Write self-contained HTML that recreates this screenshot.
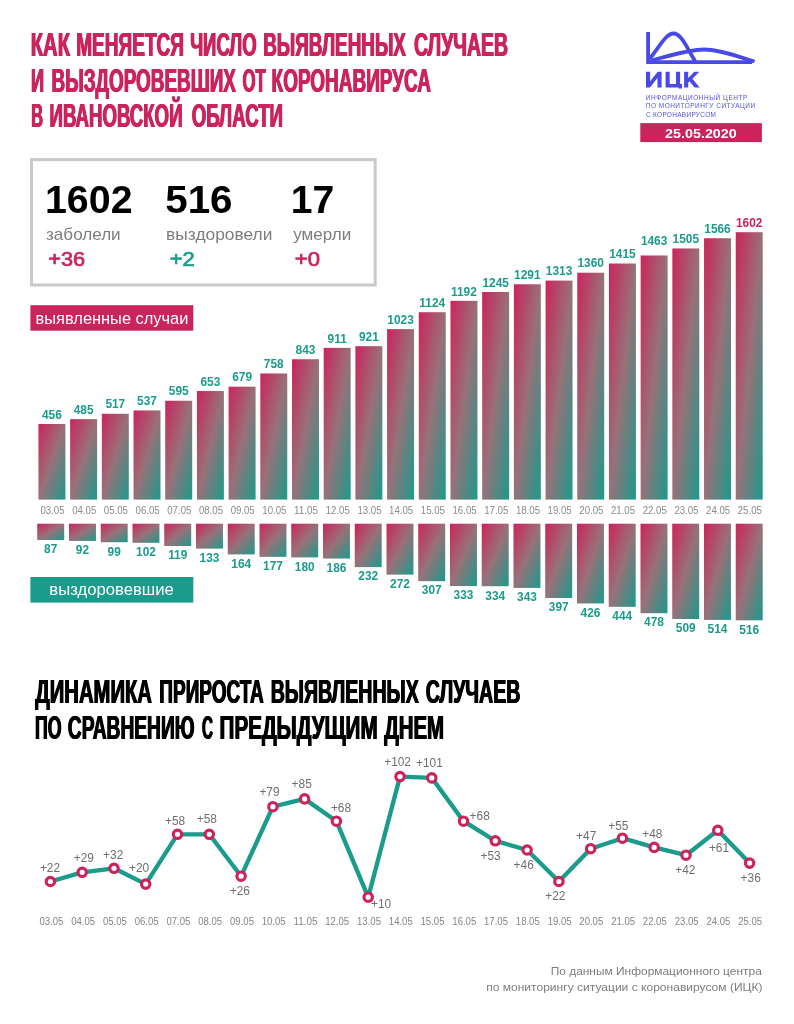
<!DOCTYPE html>
<html lang="ru"><head><meta charset="utf-8"><title>ИЦК 25.05.2020</title>
<style>html,body{margin:0;padding:0;background:#fff;}body{width:794px;height:1024px;overflow:hidden;font-family:"Liberation Sans", sans-serif;}svg{display:block;will-change:transform;}text{font-family:"Liberation Sans", sans-serif;}</style>
</head><body>
<svg width="794" height="1024" viewBox="0 0 794 1024">
<defs><linearGradient id="g" x1="0" y1="0" x2="1" y2="1"><stop offset="0" stop-color="#cb245c"/><stop offset="0.5" stop-color="#987179"/><stop offset="1" stop-color="#1a9b8b"/></linearGradient></defs>
<rect width="794" height="1024" fill="#fff"/>
<text x="30.29" y="56.20" font-size="33.40" font-weight="bold" fill="#cb245c" textLength="39.27" lengthAdjust="spacingAndGlyphs">КАК</text>
<text x="30.79" y="56.20" font-size="33.40" font-weight="bold" fill="#cb245c" textLength="39.27" lengthAdjust="spacingAndGlyphs">КАК</text>
<text x="31.29" y="56.20" font-size="33.40" font-weight="bold" fill="#cb245c" textLength="39.27" lengthAdjust="spacingAndGlyphs">КАК</text>
<text x="75.66" y="56.20" font-size="33.40" font-weight="bold" fill="#cb245c" textLength="107.82" lengthAdjust="spacingAndGlyphs">МЕНЯЕТСЯ</text>
<text x="76.16" y="56.20" font-size="33.40" font-weight="bold" fill="#cb245c" textLength="107.82" lengthAdjust="spacingAndGlyphs">МЕНЯЕТСЯ</text>
<text x="76.66" y="56.20" font-size="33.40" font-weight="bold" fill="#cb245c" textLength="107.82" lengthAdjust="spacingAndGlyphs">МЕНЯЕТСЯ</text>
<text x="189.63" y="56.20" font-size="33.40" font-weight="bold" fill="#cb245c" textLength="66.52" lengthAdjust="spacingAndGlyphs">ЧИСЛО</text>
<text x="190.13" y="56.20" font-size="33.40" font-weight="bold" fill="#cb245c" textLength="66.52" lengthAdjust="spacingAndGlyphs">ЧИСЛО</text>
<text x="190.63" y="56.20" font-size="33.40" font-weight="bold" fill="#cb245c" textLength="66.52" lengthAdjust="spacingAndGlyphs">ЧИСЛО</text>
<text x="262.68" y="56.20" font-size="33.40" font-weight="bold" fill="#cb245c" textLength="142.74" lengthAdjust="spacingAndGlyphs">ВЫЯВЛЕННЫХ</text>
<text x="263.18" y="56.20" font-size="33.40" font-weight="bold" fill="#cb245c" textLength="142.74" lengthAdjust="spacingAndGlyphs">ВЫЯВЛЕННЫХ</text>
<text x="263.68" y="56.20" font-size="33.40" font-weight="bold" fill="#cb245c" textLength="142.74" lengthAdjust="spacingAndGlyphs">ВЫЯВЛЕННЫХ</text>
<text x="413.52" y="56.20" font-size="33.40" font-weight="bold" fill="#cb245c" textLength="94.05" lengthAdjust="spacingAndGlyphs">СЛУЧАЕВ</text>
<text x="414.02" y="56.20" font-size="33.40" font-weight="bold" fill="#cb245c" textLength="94.05" lengthAdjust="spacingAndGlyphs">СЛУЧАЕВ</text>
<text x="414.52" y="56.20" font-size="33.40" font-weight="bold" fill="#cb245c" textLength="94.05" lengthAdjust="spacingAndGlyphs">СЛУЧАЕВ</text>
<text x="30.52" y="91.80" font-size="33.40" font-weight="bold" fill="#cb245c" textLength="13.09" lengthAdjust="spacingAndGlyphs">И</text>
<text x="31.02" y="91.80" font-size="33.40" font-weight="bold" fill="#cb245c" textLength="13.09" lengthAdjust="spacingAndGlyphs">И</text>
<text x="31.52" y="91.80" font-size="33.40" font-weight="bold" fill="#cb245c" textLength="13.09" lengthAdjust="spacingAndGlyphs">И</text>
<text x="50.97" y="91.80" font-size="33.40" font-weight="bold" fill="#cb245c" textLength="184.46" lengthAdjust="spacingAndGlyphs">ВЫЗДОРОВЕВШИХ</text>
<text x="51.47" y="91.80" font-size="33.40" font-weight="bold" fill="#cb245c" textLength="184.46" lengthAdjust="spacingAndGlyphs">ВЫЗДОРОВЕВШИХ</text>
<text x="51.97" y="91.80" font-size="33.40" font-weight="bold" fill="#cb245c" textLength="184.46" lengthAdjust="spacingAndGlyphs">ВЫЗДОРОВЕВШИХ</text>
<text x="241.93" y="91.80" font-size="33.40" font-weight="bold" fill="#cb245c" textLength="23.21" lengthAdjust="spacingAndGlyphs">ОТ</text>
<text x="242.43" y="91.80" font-size="33.40" font-weight="bold" fill="#cb245c" textLength="23.21" lengthAdjust="spacingAndGlyphs">ОТ</text>
<text x="242.93" y="91.80" font-size="33.40" font-weight="bold" fill="#cb245c" textLength="23.21" lengthAdjust="spacingAndGlyphs">ОТ</text>
<text x="271.07" y="91.80" font-size="33.40" font-weight="bold" fill="#cb245c" textLength="159.42" lengthAdjust="spacingAndGlyphs">КОРОНАВИРУСА</text>
<text x="271.57" y="91.80" font-size="33.40" font-weight="bold" fill="#cb245c" textLength="159.42" lengthAdjust="spacingAndGlyphs">КОРОНАВИРУСА</text>
<text x="272.07" y="91.80" font-size="33.40" font-weight="bold" fill="#cb245c" textLength="159.42" lengthAdjust="spacingAndGlyphs">КОРОНАВИРУСА</text>
<text x="30.74" y="127.40" font-size="33.40" font-weight="bold" fill="#cb245c" textLength="11.79" lengthAdjust="spacingAndGlyphs">В</text>
<text x="31.24" y="127.40" font-size="33.40" font-weight="bold" fill="#cb245c" textLength="11.79" lengthAdjust="spacingAndGlyphs">В</text>
<text x="31.74" y="127.40" font-size="33.40" font-weight="bold" fill="#cb245c" textLength="11.79" lengthAdjust="spacingAndGlyphs">В</text>
<text x="49.09" y="127.40" font-size="33.40" font-weight="bold" fill="#cb245c" textLength="132.96" lengthAdjust="spacingAndGlyphs">ИВАНОВСКОЙ</text>
<text x="49.59" y="127.40" font-size="33.40" font-weight="bold" fill="#cb245c" textLength="132.96" lengthAdjust="spacingAndGlyphs">ИВАНОВСКОЙ</text>
<text x="50.09" y="127.40" font-size="33.40" font-weight="bold" fill="#cb245c" textLength="132.96" lengthAdjust="spacingAndGlyphs">ИВАНОВСКОЙ</text>
<text x="191.15" y="127.40" font-size="33.40" font-weight="bold" fill="#cb245c" textLength="91.36" lengthAdjust="spacingAndGlyphs">ОБЛАСТИ</text>
<text x="191.65" y="127.40" font-size="33.40" font-weight="bold" fill="#cb245c" textLength="91.36" lengthAdjust="spacingAndGlyphs">ОБЛАСТИ</text>
<text x="192.15" y="127.40" font-size="33.40" font-weight="bold" fill="#cb245c" textLength="91.36" lengthAdjust="spacingAndGlyphs">ОБЛАСТИ</text>
<g fill="none" stroke="#4949e8" stroke-width="3.8" stroke-linejoin="miter">
<path d="M648.1 31.9 V62.1 H752"/>
<path d="M649.5 59 C 660 46, 666 33.5, 673.5 33.5 C 681 33.5, 686 46, 695 61"/>
<path d="M651 60.5 C 672 55, 690 49.5, 704 49.5 C 720 49.5, 738 56.5, 754.5 61.5"/>
</g>
<g fill="#4949e8">
<path d="M646 71.7h4.1v9.6l7.6-9.6h3.9v15.9h-4.1v-9.6l-7.6 9.6h-3.9z"/>
<path d="M665.6 71.7h4.1v12.2h6.3v-12.2h4.1v12.2h1.9v4.6h-3.4v-0.9h-13z"/>
<path d="M684.1 71.7h4.1v6.3l6.1-6.3h5l-6.9 7 7.3 8.9h-5.1l-5.1-6.3-1.3 1.3v5h-4.1z"/>
</g>
<text x="645.78" y="100.00" font-size="6.50" fill="#5252e4" textLength="101.55" lengthAdjust="spacing">ИНФОРМАЦИОННЫЙ ЦЕНТР</text>
<text x="645.78" y="108.35" font-size="6.50" fill="#5252e4" textLength="109.31" lengthAdjust="spacing">ПО МОНИТОРИНГУ СИТУАЦИИ</text>
<text x="645.97" y="116.70" font-size="6.50" fill="#5252e4" textLength="69.92" lengthAdjust="spacing">С КОРОНАВИРУСОМ</text>
<rect x="640.3" y="123.1" width="121.6" height="19" fill="#cb245c"/>
<text x="665.14" y="137.80" font-size="13.60" font-weight="bold" fill="#fff" textLength="71.60" lengthAdjust="spacingAndGlyphs">25.05.2020</text>
<rect x="31.55" y="159.65" width="343.65" height="125.35" fill="none" stroke="#c9c9c9" stroke-width="3"/>
<text x="44.94" y="213.00" font-size="38.00" font-weight="bold" fill="#000" textLength="87.62" lengthAdjust="spacingAndGlyphs">1602</text>
<text x="165.19" y="213.00" font-size="38.00" font-weight="bold" fill="#000" textLength="67.36" lengthAdjust="spacingAndGlyphs">516</text>
<text x="290.86" y="213.00" font-size="38.00" font-weight="bold" fill="#000" textLength="43.50" lengthAdjust="spacingAndGlyphs">17</text>
<text x="46.02" y="240.00" font-size="17.00" fill="#7d7d7d" textLength="74.64" lengthAdjust="spacingAndGlyphs">заболели</text>
<text x="166.13" y="240.00" font-size="17.00" fill="#7d7d7d" textLength="106.26" lengthAdjust="spacingAndGlyphs">выздоровели</text>
<text x="293.26" y="240.00" font-size="17.00" fill="#7d7d7d" textLength="57.92" lengthAdjust="spacingAndGlyphs">умерли</text>
<text x="48.27" y="265.70" font-size="19.60" fill="#cb245c" textLength="36.89" lengthAdjust="spacingAndGlyphs" stroke="#cb245c" stroke-width="0.7">+36</text>
<text x="169.76" y="265.70" font-size="19.60" fill="#1a9b8b" textLength="24.99" lengthAdjust="spacingAndGlyphs" stroke="#1a9b8b" stroke-width="0.7">+2</text>
<text x="294.75" y="265.70" font-size="19.60" fill="#cb245c" textLength="25.18" lengthAdjust="spacingAndGlyphs" stroke="#cb245c" stroke-width="0.7">+0</text>
<rect x="30.4" y="305.2" width="162.9" height="25.5" fill="#cb245c"/>
<text x="35.59" y="323.70" font-size="16.00" fill="#fff" textLength="152.83" lengthAdjust="spacingAndGlyphs">выявленные случаи</text>
<rect x="30.4" y="577" width="162.9" height="25.6" fill="#1a9b8b"/>
<text x="49.27" y="595.30" font-size="16.00" fill="#fff" textLength="124.55" lengthAdjust="spacingAndGlyphs">выздоровевшие</text>
<rect x="38.45" y="424.00" width="26.95" height="75.60" fill="url(#g)"/>
<text x="51.93" y="418.70" font-size="11.9" font-weight="bold" fill="#1a9b8b" text-anchor="middle">456</text>
<text x="52.53" y="513.8" font-size="10" fill="#8a8a8a" text-anchor="middle" textLength="24.1" lengthAdjust="spacingAndGlyphs">03.05</text>
<rect x="37.25" y="523.70" width="26.95" height="16.29" fill="url(#g)"/>
<text x="50.73" y="553.29" font-size="11.9" font-weight="bold" fill="#1a9b8b" text-anchor="middle">87</text>
<rect x="70.15" y="419.15" width="26.95" height="80.45" fill="url(#g)"/>
<text x="83.62" y="413.85" font-size="11.9" font-weight="bold" fill="#1a9b8b" text-anchor="middle">485</text>
<text x="84.22" y="513.8" font-size="10" fill="#8a8a8a" text-anchor="middle" textLength="24.1" lengthAdjust="spacingAndGlyphs">04.05</text>
<rect x="69.00" y="523.70" width="26.95" height="17.22" fill="url(#g)"/>
<text x="82.47" y="554.22" font-size="11.9" font-weight="bold" fill="#1a9b8b" text-anchor="middle">92</text>
<rect x="101.84" y="413.79" width="26.95" height="85.81" fill="url(#g)"/>
<text x="115.31" y="408.49" font-size="11.9" font-weight="bold" fill="#1a9b8b" text-anchor="middle">517</text>
<text x="115.91" y="513.8" font-size="10" fill="#8a8a8a" text-anchor="middle" textLength="24.1" lengthAdjust="spacingAndGlyphs">05.05</text>
<rect x="100.75" y="523.70" width="26.95" height="18.53" fill="url(#g)"/>
<text x="114.22" y="555.53" font-size="11.9" font-weight="bold" fill="#1a9b8b" text-anchor="middle">99</text>
<rect x="133.54" y="410.45" width="26.95" height="89.15" fill="url(#g)"/>
<text x="147.01" y="405.15" font-size="11.9" font-weight="bold" fill="#1a9b8b" text-anchor="middle">537</text>
<text x="147.61" y="513.8" font-size="10" fill="#8a8a8a" text-anchor="middle" textLength="24.1" lengthAdjust="spacingAndGlyphs">06.05</text>
<rect x="132.50" y="523.70" width="26.95" height="19.10" fill="url(#g)"/>
<text x="145.97" y="556.10" font-size="11.9" font-weight="bold" fill="#1a9b8b" text-anchor="middle">102</text>
<rect x="165.23" y="400.74" width="26.95" height="98.86" fill="url(#g)"/>
<text x="178.71" y="395.44" font-size="11.9" font-weight="bold" fill="#1a9b8b" text-anchor="middle">595</text>
<text x="179.31" y="513.8" font-size="10" fill="#8a8a8a" text-anchor="middle" textLength="24.1" lengthAdjust="spacingAndGlyphs">07.05</text>
<rect x="164.25" y="523.70" width="26.95" height="22.28" fill="url(#g)"/>
<text x="177.72" y="559.28" font-size="11.9" font-weight="bold" fill="#1a9b8b" text-anchor="middle">119</text>
<rect x="196.93" y="391.03" width="26.95" height="108.57" fill="url(#g)"/>
<text x="210.40" y="385.73" font-size="11.9" font-weight="bold" fill="#1a9b8b" text-anchor="middle">653</text>
<text x="211.00" y="513.8" font-size="10" fill="#8a8a8a" text-anchor="middle" textLength="24.1" lengthAdjust="spacingAndGlyphs">08.05</text>
<rect x="196.00" y="523.70" width="26.95" height="24.90" fill="url(#g)"/>
<text x="209.47" y="561.90" font-size="11.9" font-weight="bold" fill="#1a9b8b" text-anchor="middle">133</text>
<rect x="228.62" y="386.68" width="26.95" height="112.92" fill="url(#g)"/>
<text x="242.09" y="381.38" font-size="11.9" font-weight="bold" fill="#1a9b8b" text-anchor="middle">679</text>
<text x="242.69" y="513.8" font-size="10" fill="#8a8a8a" text-anchor="middle" textLength="24.1" lengthAdjust="spacingAndGlyphs">09.05</text>
<rect x="227.75" y="523.70" width="26.95" height="30.70" fill="url(#g)"/>
<text x="241.22" y="567.70" font-size="11.9" font-weight="bold" fill="#1a9b8b" text-anchor="middle">164</text>
<rect x="260.31" y="373.46" width="26.95" height="126.14" fill="url(#g)"/>
<text x="273.79" y="368.16" font-size="11.9" font-weight="bold" fill="#1a9b8b" text-anchor="middle">758</text>
<text x="274.39" y="513.8" font-size="10" fill="#8a8a8a" text-anchor="middle" textLength="24.1" lengthAdjust="spacingAndGlyphs">10.05</text>
<rect x="259.50" y="523.70" width="26.95" height="33.14" fill="url(#g)"/>
<text x="272.97" y="570.14" font-size="11.9" font-weight="bold" fill="#1a9b8b" text-anchor="middle">177</text>
<rect x="292.01" y="359.24" width="26.95" height="140.36" fill="url(#g)"/>
<text x="305.49" y="353.94" font-size="11.9" font-weight="bold" fill="#1a9b8b" text-anchor="middle">843</text>
<text x="306.09" y="513.8" font-size="10" fill="#8a8a8a" text-anchor="middle" textLength="24.1" lengthAdjust="spacingAndGlyphs">11.05</text>
<rect x="291.25" y="523.70" width="26.95" height="33.70" fill="url(#g)"/>
<text x="304.72" y="570.70" font-size="11.9" font-weight="bold" fill="#1a9b8b" text-anchor="middle">180</text>
<rect x="323.70" y="347.86" width="26.95" height="151.74" fill="url(#g)"/>
<text x="337.18" y="342.56" font-size="11.9" font-weight="bold" fill="#1a9b8b" text-anchor="middle">911</text>
<text x="337.78" y="513.8" font-size="10" fill="#8a8a8a" text-anchor="middle" textLength="24.1" lengthAdjust="spacingAndGlyphs">12.05</text>
<rect x="323.00" y="523.70" width="26.95" height="34.82" fill="url(#g)"/>
<text x="336.47" y="571.82" font-size="11.9" font-weight="bold" fill="#1a9b8b" text-anchor="middle">186</text>
<rect x="355.40" y="346.18" width="26.95" height="153.42" fill="url(#g)"/>
<text x="368.88" y="340.88" font-size="11.9" font-weight="bold" fill="#1a9b8b" text-anchor="middle">921</text>
<text x="369.48" y="513.8" font-size="10" fill="#8a8a8a" text-anchor="middle" textLength="24.1" lengthAdjust="spacingAndGlyphs">13.05</text>
<rect x="354.75" y="523.70" width="26.95" height="43.43" fill="url(#g)"/>
<text x="368.22" y="580.43" font-size="11.9" font-weight="bold" fill="#1a9b8b" text-anchor="middle">232</text>
<rect x="387.09" y="329.11" width="26.95" height="170.49" fill="url(#g)"/>
<text x="400.57" y="323.81" font-size="11.9" font-weight="bold" fill="#1a9b8b" text-anchor="middle">1023</text>
<text x="401.17" y="513.8" font-size="10" fill="#8a8a8a" text-anchor="middle" textLength="24.1" lengthAdjust="spacingAndGlyphs">14.05</text>
<rect x="386.50" y="523.70" width="26.95" height="50.92" fill="url(#g)"/>
<text x="399.97" y="587.92" font-size="11.9" font-weight="bold" fill="#1a9b8b" text-anchor="middle">272</text>
<rect x="418.79" y="312.21" width="26.95" height="187.39" fill="url(#g)"/>
<text x="432.27" y="306.91" font-size="11.9" font-weight="bold" fill="#1a9b8b" text-anchor="middle">1124</text>
<text x="432.87" y="513.8" font-size="10" fill="#8a8a8a" text-anchor="middle" textLength="24.1" lengthAdjust="spacingAndGlyphs">15.05</text>
<rect x="418.24" y="523.70" width="26.95" height="57.47" fill="url(#g)"/>
<text x="431.72" y="594.47" font-size="11.9" font-weight="bold" fill="#1a9b8b" text-anchor="middle">307</text>
<rect x="450.49" y="300.83" width="26.95" height="198.77" fill="url(#g)"/>
<text x="463.96" y="295.53" font-size="11.9" font-weight="bold" fill="#1a9b8b" text-anchor="middle">1192</text>
<text x="464.56" y="513.8" font-size="10" fill="#8a8a8a" text-anchor="middle" textLength="24.1" lengthAdjust="spacingAndGlyphs">16.05</text>
<rect x="449.99" y="523.70" width="26.95" height="62.34" fill="url(#g)"/>
<text x="463.47" y="599.34" font-size="11.9" font-weight="bold" fill="#1a9b8b" text-anchor="middle">333</text>
<rect x="482.18" y="291.96" width="26.95" height="207.64" fill="url(#g)"/>
<text x="495.66" y="286.66" font-size="11.9" font-weight="bold" fill="#1a9b8b" text-anchor="middle">1245</text>
<text x="496.26" y="513.8" font-size="10" fill="#8a8a8a" text-anchor="middle" textLength="24.1" lengthAdjust="spacingAndGlyphs">17.05</text>
<rect x="481.74" y="523.70" width="26.95" height="62.53" fill="url(#g)"/>
<text x="495.22" y="599.53" font-size="11.9" font-weight="bold" fill="#1a9b8b" text-anchor="middle">334</text>
<rect x="513.88" y="284.26" width="26.95" height="215.34" fill="url(#g)"/>
<text x="527.35" y="278.96" font-size="11.9" font-weight="bold" fill="#1a9b8b" text-anchor="middle">1291</text>
<text x="527.95" y="513.8" font-size="10" fill="#8a8a8a" text-anchor="middle" textLength="24.1" lengthAdjust="spacingAndGlyphs">18.05</text>
<rect x="513.49" y="523.70" width="26.95" height="64.21" fill="url(#g)"/>
<text x="526.97" y="601.21" font-size="11.9" font-weight="bold" fill="#1a9b8b" text-anchor="middle">343</text>
<rect x="545.57" y="280.58" width="26.95" height="219.02" fill="url(#g)"/>
<text x="559.05" y="275.28" font-size="11.9" font-weight="bold" fill="#1a9b8b" text-anchor="middle">1313</text>
<text x="559.65" y="513.8" font-size="10" fill="#8a8a8a" text-anchor="middle" textLength="24.1" lengthAdjust="spacingAndGlyphs">19.05</text>
<rect x="545.24" y="523.70" width="26.95" height="74.32" fill="url(#g)"/>
<text x="558.72" y="611.32" font-size="11.9" font-weight="bold" fill="#1a9b8b" text-anchor="middle">397</text>
<rect x="577.27" y="272.71" width="26.95" height="226.89" fill="url(#g)"/>
<text x="590.74" y="267.41" font-size="11.9" font-weight="bold" fill="#1a9b8b" text-anchor="middle">1360</text>
<text x="591.34" y="513.8" font-size="10" fill="#8a8a8a" text-anchor="middle" textLength="24.1" lengthAdjust="spacingAndGlyphs">20.05</text>
<rect x="576.99" y="523.70" width="26.95" height="79.75" fill="url(#g)"/>
<text x="590.47" y="616.75" font-size="11.9" font-weight="bold" fill="#1a9b8b" text-anchor="middle">426</text>
<rect x="608.96" y="263.51" width="26.95" height="236.09" fill="url(#g)"/>
<text x="622.44" y="258.21" font-size="11.9" font-weight="bold" fill="#1a9b8b" text-anchor="middle">1415</text>
<text x="623.04" y="513.8" font-size="10" fill="#8a8a8a" text-anchor="middle" textLength="24.1" lengthAdjust="spacingAndGlyphs">21.05</text>
<rect x="608.74" y="523.70" width="26.95" height="83.12" fill="url(#g)"/>
<text x="622.22" y="620.12" font-size="11.9" font-weight="bold" fill="#1a9b8b" text-anchor="middle">444</text>
<rect x="640.66" y="255.47" width="26.95" height="244.13" fill="url(#g)"/>
<text x="654.13" y="244.97" font-size="11.9" font-weight="bold" fill="#1a9b8b" text-anchor="middle">1463</text>
<text x="654.73" y="513.8" font-size="10" fill="#8a8a8a" text-anchor="middle" textLength="24.1" lengthAdjust="spacingAndGlyphs">22.05</text>
<rect x="640.49" y="523.70" width="26.95" height="89.49" fill="url(#g)"/>
<text x="653.97" y="626.49" font-size="11.9" font-weight="bold" fill="#1a9b8b" text-anchor="middle">478</text>
<rect x="672.35" y="248.44" width="26.95" height="251.16" fill="url(#g)"/>
<text x="685.83" y="243.14" font-size="11.9" font-weight="bold" fill="#1a9b8b" text-anchor="middle">1505</text>
<text x="686.43" y="513.8" font-size="10" fill="#8a8a8a" text-anchor="middle" textLength="24.1" lengthAdjust="spacingAndGlyphs">23.05</text>
<rect x="672.24" y="523.70" width="26.95" height="95.29" fill="url(#g)"/>
<text x="685.72" y="632.29" font-size="11.9" font-weight="bold" fill="#1a9b8b" text-anchor="middle">509</text>
<rect x="704.05" y="238.23" width="26.95" height="261.37" fill="url(#g)"/>
<text x="717.52" y="232.93" font-size="11.9" font-weight="bold" fill="#1a9b8b" text-anchor="middle">1566</text>
<text x="718.12" y="513.8" font-size="10" fill="#8a8a8a" text-anchor="middle" textLength="24.1" lengthAdjust="spacingAndGlyphs">24.05</text>
<rect x="703.99" y="523.70" width="26.95" height="96.23" fill="url(#g)"/>
<text x="717.47" y="633.23" font-size="11.9" font-weight="bold" fill="#1a9b8b" text-anchor="middle">514</text>
<rect x="735.74" y="232.21" width="26.95" height="267.39" fill="url(#g)"/>
<text x="749.22" y="226.91" font-size="11.9" font-weight="bold" fill="#cb245c" text-anchor="middle">1602</text>
<text x="749.82" y="513.8" font-size="10" fill="#8a8a8a" text-anchor="middle" textLength="24.1" lengthAdjust="spacingAndGlyphs">25.05</text>
<rect x="735.74" y="523.70" width="26.95" height="96.60" fill="url(#g)"/>
<text x="749.22" y="633.60" font-size="11.9" font-weight="bold" fill="#1a9b8b" text-anchor="middle">516</text>
<text x="34.85" y="702.90" font-size="33.40" font-weight="bold" fill="#000" textLength="116.55" lengthAdjust="spacingAndGlyphs">ДИНАМИКА</text>
<text x="35.35" y="702.90" font-size="33.40" font-weight="bold" fill="#000" textLength="116.55" lengthAdjust="spacingAndGlyphs">ДИНАМИКА</text>
<text x="35.85" y="702.90" font-size="33.40" font-weight="bold" fill="#000" textLength="116.55" lengthAdjust="spacingAndGlyphs">ДИНАМИКА</text>
<text x="158.87" y="702.90" font-size="33.40" font-weight="bold" fill="#000" textLength="104.38" lengthAdjust="spacingAndGlyphs">ПРИРОСТА</text>
<text x="159.37" y="702.90" font-size="33.40" font-weight="bold" fill="#000" textLength="104.38" lengthAdjust="spacingAndGlyphs">ПРИРОСТА</text>
<text x="159.87" y="702.90" font-size="33.40" font-weight="bold" fill="#000" textLength="104.38" lengthAdjust="spacingAndGlyphs">ПРИРОСТА</text>
<text x="270.13" y="702.90" font-size="33.40" font-weight="bold" fill="#000" textLength="148.20" lengthAdjust="spacingAndGlyphs">ВЫЯВЛЕННЫХ</text>
<text x="270.63" y="702.90" font-size="33.40" font-weight="bold" fill="#000" textLength="148.20" lengthAdjust="spacingAndGlyphs">ВЫЯВЛЕННЫХ</text>
<text x="271.13" y="702.90" font-size="33.40" font-weight="bold" fill="#000" textLength="148.20" lengthAdjust="spacingAndGlyphs">ВЫЯВЛЕННЫХ</text>
<text x="425.22" y="702.90" font-size="33.40" font-weight="bold" fill="#000" textLength="94.77" lengthAdjust="spacingAndGlyphs">СЛУЧАЕВ</text>
<text x="425.72" y="702.90" font-size="33.40" font-weight="bold" fill="#000" textLength="94.77" lengthAdjust="spacingAndGlyphs">СЛУЧАЕВ</text>
<text x="426.22" y="702.90" font-size="33.40" font-weight="bold" fill="#000" textLength="94.77" lengthAdjust="spacingAndGlyphs">СЛУЧАЕВ</text>
<text x="34.45" y="739.30" font-size="33.40" font-weight="bold" fill="#000" textLength="26.55" lengthAdjust="spacingAndGlyphs">ПО</text>
<text x="34.95" y="739.30" font-size="33.40" font-weight="bold" fill="#000" textLength="26.55" lengthAdjust="spacingAndGlyphs">ПО</text>
<text x="35.45" y="739.30" font-size="33.40" font-weight="bold" fill="#000" textLength="26.55" lengthAdjust="spacingAndGlyphs">ПО</text>
<text x="67.33" y="739.30" font-size="33.40" font-weight="bold" fill="#000" textLength="126.67" lengthAdjust="spacingAndGlyphs">СРАВНЕНИЮ</text>
<text x="67.83" y="739.30" font-size="33.40" font-weight="bold" fill="#000" textLength="126.67" lengthAdjust="spacingAndGlyphs">СРАВНЕНИЮ</text>
<text x="68.33" y="739.30" font-size="33.40" font-weight="bold" fill="#000" textLength="126.67" lengthAdjust="spacingAndGlyphs">СРАВНЕНИЮ</text>
<text x="201.60" y="739.30" font-size="33.40" font-weight="bold" fill="#000" textLength="10.92" lengthAdjust="spacingAndGlyphs">С</text>
<text x="202.10" y="739.30" font-size="33.40" font-weight="bold" fill="#000" textLength="10.92" lengthAdjust="spacingAndGlyphs">С</text>
<text x="202.60" y="739.30" font-size="33.40" font-weight="bold" fill="#000" textLength="10.92" lengthAdjust="spacingAndGlyphs">С</text>
<text x="219.06" y="739.30" font-size="33.40" font-weight="bold" fill="#000" textLength="158.02" lengthAdjust="spacingAndGlyphs">ПРЕДЫДУЩИМ</text>
<text x="219.56" y="739.30" font-size="33.40" font-weight="bold" fill="#000" textLength="158.02" lengthAdjust="spacingAndGlyphs">ПРЕДЫДУЩИМ</text>
<text x="220.06" y="739.30" font-size="33.40" font-weight="bold" fill="#000" textLength="158.02" lengthAdjust="spacingAndGlyphs">ПРЕДЫДУЩИМ</text>
<text x="383.65" y="739.30" font-size="33.40" font-weight="bold" fill="#000" textLength="59.87" lengthAdjust="spacingAndGlyphs">ДНЕМ</text>
<text x="384.15" y="739.30" font-size="33.40" font-weight="bold" fill="#000" textLength="59.87" lengthAdjust="spacingAndGlyphs">ДНЕМ</text>
<text x="384.65" y="739.30" font-size="33.40" font-weight="bold" fill="#000" textLength="59.87" lengthAdjust="spacingAndGlyphs">ДНЕМ</text>
<polyline fill="none" stroke="#1a9b8b" stroke-width="4.35" stroke-linejoin="round" stroke-linecap="round" points="50.4,881.5 82.2,872.3 114.0,868.3 145.7,884.1 177.5,834.3 209.3,834.3 241.1,876.2 272.9,806.7 304.6,798.9 336.4,821.2 368.2,897.2 400.0,776.6 431.8,777.9 463.5,821.2 495.3,840.8 527.1,850.0 558.9,881.5 590.7,848.7 622.4,838.2 654.2,847.4 686.0,855.2 717.8,830.3 749.6,863.1"/>
<circle cx="50.4" cy="881.5" r="4.2" fill="#fff" stroke="#cb245c" stroke-width="3.2"/>
<circle cx="82.2" cy="872.3" r="4.2" fill="#fff" stroke="#cb245c" stroke-width="3.2"/>
<circle cx="114.0" cy="868.3" r="4.2" fill="#fff" stroke="#cb245c" stroke-width="3.2"/>
<circle cx="145.7" cy="884.1" r="4.2" fill="#fff" stroke="#cb245c" stroke-width="3.2"/>
<circle cx="177.5" cy="834.3" r="4.2" fill="#fff" stroke="#cb245c" stroke-width="3.2"/>
<circle cx="209.3" cy="834.3" r="4.2" fill="#fff" stroke="#cb245c" stroke-width="3.2"/>
<circle cx="241.1" cy="876.2" r="4.2" fill="#fff" stroke="#cb245c" stroke-width="3.2"/>
<circle cx="272.9" cy="806.7" r="4.2" fill="#fff" stroke="#cb245c" stroke-width="3.2"/>
<circle cx="304.6" cy="798.9" r="4.2" fill="#fff" stroke="#cb245c" stroke-width="3.2"/>
<circle cx="336.4" cy="821.2" r="4.2" fill="#fff" stroke="#cb245c" stroke-width="3.2"/>
<circle cx="368.2" cy="897.2" r="4.2" fill="#fff" stroke="#cb245c" stroke-width="3.2"/>
<circle cx="400.0" cy="776.6" r="4.2" fill="#fff" stroke="#cb245c" stroke-width="3.2"/>
<circle cx="431.8" cy="777.9" r="4.2" fill="#fff" stroke="#cb245c" stroke-width="3.2"/>
<circle cx="463.5" cy="821.2" r="4.2" fill="#fff" stroke="#cb245c" stroke-width="3.2"/>
<circle cx="495.3" cy="840.8" r="4.2" fill="#fff" stroke="#cb245c" stroke-width="3.2"/>
<circle cx="527.1" cy="850.0" r="4.2" fill="#fff" stroke="#cb245c" stroke-width="3.2"/>
<circle cx="558.9" cy="881.5" r="4.2" fill="#fff" stroke="#cb245c" stroke-width="3.2"/>
<circle cx="590.7" cy="848.7" r="4.2" fill="#fff" stroke="#cb245c" stroke-width="3.2"/>
<circle cx="622.4" cy="838.2" r="4.2" fill="#fff" stroke="#cb245c" stroke-width="3.2"/>
<circle cx="654.2" cy="847.4" r="4.2" fill="#fff" stroke="#cb245c" stroke-width="3.2"/>
<circle cx="686.0" cy="855.2" r="4.2" fill="#fff" stroke="#cb245c" stroke-width="3.2"/>
<circle cx="717.8" cy="830.3" r="4.2" fill="#fff" stroke="#cb245c" stroke-width="3.2"/>
<circle cx="749.6" cy="863.1" r="4.2" fill="#fff" stroke="#cb245c" stroke-width="3.2"/>
<text x="50.0" y="872.0" font-size="11.9" fill="#6e6e6e" text-anchor="middle">+22</text>
<text x="51.4" y="924.5" font-size="10" fill="#858585" text-anchor="middle" textLength="23.9" lengthAdjust="spacingAndGlyphs">03.05</text>
<text x="83.8" y="861.9" font-size="11.9" fill="#6e6e6e" text-anchor="middle">+29</text>
<text x="83.2" y="924.5" font-size="10" fill="#858585" text-anchor="middle" textLength="23.9" lengthAdjust="spacingAndGlyphs">04.05</text>
<text x="113.2" y="858.6" font-size="11.9" fill="#6e6e6e" text-anchor="middle">+32</text>
<text x="114.9" y="924.5" font-size="10" fill="#858585" text-anchor="middle" textLength="23.9" lengthAdjust="spacingAndGlyphs">05.05</text>
<text x="139.1" y="872.4" font-size="11.9" fill="#6e6e6e" text-anchor="middle">+20</text>
<text x="146.7" y="924.5" font-size="10" fill="#858585" text-anchor="middle" textLength="23.9" lengthAdjust="spacingAndGlyphs">06.05</text>
<text x="175.1" y="824.7" font-size="11.9" fill="#6e6e6e" text-anchor="middle">+58</text>
<text x="178.4" y="924.5" font-size="10" fill="#858585" text-anchor="middle" textLength="23.9" lengthAdjust="spacingAndGlyphs">07.05</text>
<text x="206.9" y="823.3" font-size="11.9" fill="#6e6e6e" text-anchor="middle">+58</text>
<text x="210.2" y="924.5" font-size="10" fill="#858585" text-anchor="middle" textLength="23.9" lengthAdjust="spacingAndGlyphs">08.05</text>
<text x="239.9" y="894.9" font-size="11.9" fill="#6e6e6e" text-anchor="middle">+26</text>
<text x="242.0" y="924.5" font-size="10" fill="#858585" text-anchor="middle" textLength="23.9" lengthAdjust="spacingAndGlyphs">09.05</text>
<text x="269.5" y="795.7" font-size="11.9" fill="#6e6e6e" text-anchor="middle">+79</text>
<text x="273.7" y="924.5" font-size="10" fill="#858585" text-anchor="middle" textLength="23.9" lengthAdjust="spacingAndGlyphs">10.05</text>
<text x="301.7" y="787.9" font-size="11.9" fill="#6e6e6e" text-anchor="middle">+85</text>
<text x="305.5" y="924.5" font-size="10" fill="#858585" text-anchor="middle" textLength="23.9" lengthAdjust="spacingAndGlyphs">11.05</text>
<text x="341.0" y="812.2" font-size="11.9" fill="#6e6e6e" text-anchor="middle">+68</text>
<text x="337.2" y="924.5" font-size="10" fill="#858585" text-anchor="middle" textLength="23.9" lengthAdjust="spacingAndGlyphs">12.05</text>
<text x="381.1" y="907.8" font-size="11.9" fill="#6e6e6e" text-anchor="middle">+10</text>
<text x="369.0" y="924.5" font-size="10" fill="#858585" text-anchor="middle" textLength="23.9" lengthAdjust="spacingAndGlyphs">13.05</text>
<text x="397.6" y="766.1" font-size="11.9" fill="#6e6e6e" text-anchor="middle">+102</text>
<text x="400.8" y="924.5" font-size="10" fill="#858585" text-anchor="middle" textLength="23.9" lengthAdjust="spacingAndGlyphs">14.05</text>
<text x="429.4" y="766.9" font-size="11.9" fill="#6e6e6e" text-anchor="middle">+101</text>
<text x="432.5" y="924.5" font-size="10" fill="#858585" text-anchor="middle" textLength="23.9" lengthAdjust="spacingAndGlyphs">15.05</text>
<text x="479.7" y="819.8" font-size="11.9" fill="#6e6e6e" text-anchor="middle">+68</text>
<text x="464.3" y="924.5" font-size="10" fill="#858585" text-anchor="middle" textLength="23.9" lengthAdjust="spacingAndGlyphs">16.05</text>
<text x="490.6" y="859.9" font-size="11.9" fill="#6e6e6e" text-anchor="middle">+53</text>
<text x="496.0" y="924.5" font-size="10" fill="#858585" text-anchor="middle" textLength="23.9" lengthAdjust="spacingAndGlyphs">17.05</text>
<text x="523.7" y="869.2" font-size="11.9" fill="#6e6e6e" text-anchor="middle">+46</text>
<text x="527.8" y="924.5" font-size="10" fill="#858585" text-anchor="middle" textLength="23.9" lengthAdjust="spacingAndGlyphs">18.05</text>
<text x="555.3" y="900.1" font-size="11.9" fill="#6e6e6e" text-anchor="middle">+22</text>
<text x="559.6" y="924.5" font-size="10" fill="#858585" text-anchor="middle" textLength="23.9" lengthAdjust="spacingAndGlyphs">19.05</text>
<text x="586.2" y="839.6" font-size="11.9" fill="#6e6e6e" text-anchor="middle">+47</text>
<text x="591.3" y="924.5" font-size="10" fill="#858585" text-anchor="middle" textLength="23.9" lengthAdjust="spacingAndGlyphs">20.05</text>
<text x="618.3" y="829.7" font-size="11.9" fill="#6e6e6e" text-anchor="middle">+55</text>
<text x="623.1" y="924.5" font-size="10" fill="#858585" text-anchor="middle" textLength="23.9" lengthAdjust="spacingAndGlyphs">21.05</text>
<text x="652.4" y="838.3" font-size="11.9" fill="#6e6e6e" text-anchor="middle">+48</text>
<text x="654.8" y="924.5" font-size="10" fill="#858585" text-anchor="middle" textLength="23.9" lengthAdjust="spacingAndGlyphs">22.05</text>
<text x="685.4" y="874.3" font-size="11.9" fill="#6e6e6e" text-anchor="middle">+42</text>
<text x="686.6" y="924.5" font-size="10" fill="#858585" text-anchor="middle" textLength="23.9" lengthAdjust="spacingAndGlyphs">23.05</text>
<text x="719.0" y="851.9" font-size="11.9" fill="#6e6e6e" text-anchor="middle">+61</text>
<text x="718.4" y="924.5" font-size="10" fill="#858585" text-anchor="middle" textLength="23.9" lengthAdjust="spacingAndGlyphs">24.05</text>
<text x="750.7" y="881.8" font-size="11.9" fill="#6e6e6e" text-anchor="middle">+36</text>
<text x="750.1" y="924.5" font-size="10" fill="#858585" text-anchor="middle" textLength="23.9" lengthAdjust="spacingAndGlyphs">25.05</text>
<text x="550.65" y="975.30" font-size="11.50" fill="#7c7c7c" textLength="211.14" lengthAdjust="spacingAndGlyphs">По данным Информационного центра</text>
<text x="486.19" y="990.80" font-size="11.50" fill="#7c7c7c" textLength="276.34" lengthAdjust="spacingAndGlyphs">по мониторингу ситуации с коронавирусом (ИЦК)</text>
</svg></body></html>
